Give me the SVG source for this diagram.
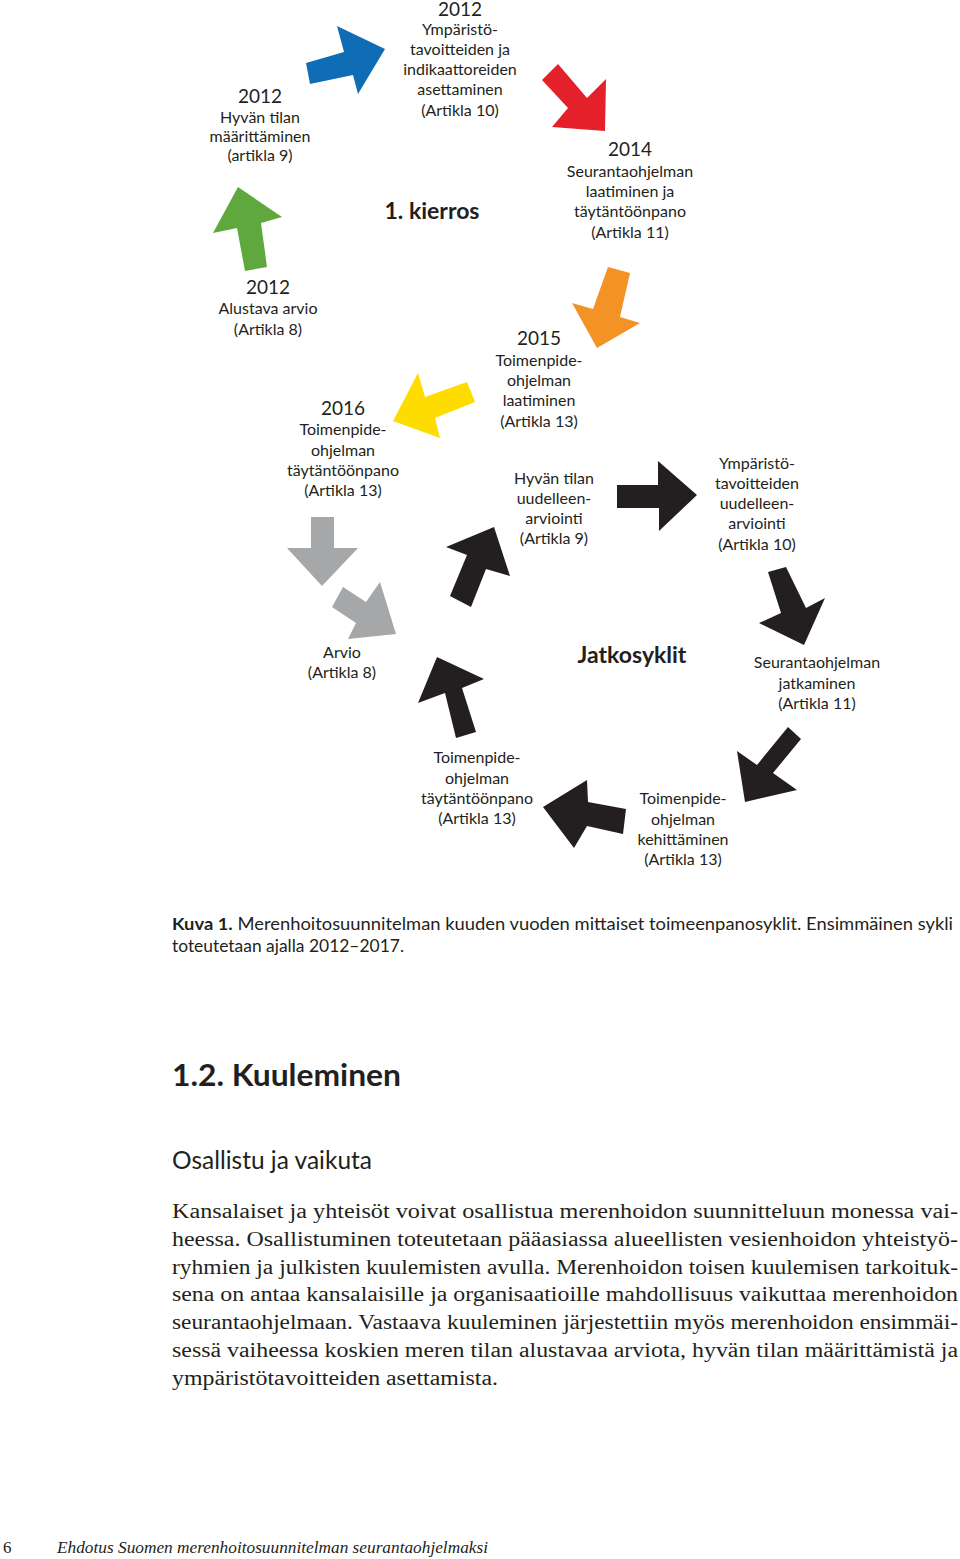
<svg xmlns="http://www.w3.org/2000/svg" width="960" height="1559" viewBox="0 0 960 1559">
<style>
.lbl{font-family:Lato,"Liberation Sans",sans-serif;font-size:16px;fill:#231f20;text-anchor:middle}
.yr{font-size:19px}
.big{font-family:Lato,"Liberation Sans",sans-serif;font-size:23px;font-weight:bold;fill:#231f20;text-anchor:middle}
.cap{font-family:Lato,"Liberation Sans",sans-serif;font-size:17px;fill:#231f20}
.h2{font-family:Lato,"Liberation Sans",sans-serif;font-size:30px;font-weight:bold;fill:#231f20}
.h3{font-family:Lato,"Liberation Sans",sans-serif;font-size:25px;fill:#231f20}
.body{font-family:"Liberation Serif",serif;font-size:20.5px;fill:#231f20}
.foot{font-family:"Liberation Serif",serif;font-size:17px;fill:#231f20}
.blue{fill:#0f6db6}.red{fill:#e4202a}.green{fill:#5ea83e}.orange{fill:#f39325}.yellow{fill:#ffdc00}.grey{fill:#a6a7a9}.black{fill:#231f20}
</style>
<rect width="960" height="1559" fill="#fff"/>
<g id="connectors">
<polygon class="blue" points="306,63 344,52 337,26 385,49 358,94 353,75 310,84"/>
<polygon class="red" points="558,64 587,98 606,79 605,131 552,127 568,108 542,80"/>
<polygon class="green" points="238,187 282,217 261,223 267,267 245,271 237,228 213,233"/>
<polygon class="orange" points="608,267 630,273 620,317 640,323 597,348 572,303 593,309"/>
<polygon class="yellow" points="467,382 475,402 435,418 440,438 393,421 418,373 425,397"/>
<polygon class="grey" points="311,517 334,517 334,548 358,548 322,586 287,548 311,548"/>
<polygon class="grey" points="343,587 366,602 380,582 396,634 348,639 356,623 332,607"/>
<polygon class="black" points="450,596 467,555 446,547 494,527 510,576 486,569 471,607"/>
<polygon class="black" points="617,485 658,485 658,461 697,495 659,531 659,508 617,508"/>
<polygon class="black" points="768,572 786,567 806,608 825,598 804,645 759,623 781,613"/>
<polygon class="black" points="456,738 445,693 418,703 437,657 484,679 462,688 476,732"/>
<polygon class="black" points="626,809 623,834 587,826 574,848 543,807 587,780 588,802"/>
<polygon class="black" points="788,727 801,739 773,773 797,790 745,802 737,751 757,765"/>
</g>
<g id="n-hyvan-tila">
<text class="lbl" x="260"><tspan class="yr" x="260" y="103">2012</tspan><tspan x="260" y="123">Hyvän tilan</tspan><tspan x="260" y="142">määrittäminen</tspan><tspan x="260" y="161">(artikla 9)</tspan></text>
</g>
<g id="n-ymparisto">
<text class="lbl"><tspan class="yr" x="460" y="16" font-size="18px">2012</tspan><tspan x="460" y="35">Ympäristö-</tspan><tspan x="460" y="55">tavoitteiden ja</tspan><tspan x="460" y="75">indikaattoreiden</tspan><tspan x="460" y="95">asettaminen</tspan><tspan x="460" y="116">(Artikla 10)</tspan></text>
</g>
<g id="n-seuranta">
<text class="lbl"><tspan class="yr" x="630" y="156">2014</tspan><tspan x="630" y="177">Seurantaohjelman</tspan><tspan x="630" y="197">laatiminen ja</tspan><tspan x="630" y="217">täytäntöönpano</tspan><tspan x="630" y="238">(Artikla 11)</tspan></text>
</g>
<g id="n-kierros">
<text class="big" x="432" y="219">1. kierros</text>
</g>
<g id="n-alustava">
<text class="lbl"><tspan class="yr" x="268" y="294">2012</tspan><tspan x="268" y="314">Alustava arvio</tspan><tspan x="268" y="335">(Artikla 8)</tspan></text>
</g>
<g id="n-toimenpide-laatiminen">
<text class="lbl"><tspan class="yr" x="539" y="345">2015</tspan><tspan x="539" y="366">Toimenpide-</tspan><tspan x="539" y="386">ohjelman</tspan><tspan x="539" y="406">laatiminen</tspan><tspan x="539" y="427">(Artikla 13)</tspan></text>
</g>
<g id="n-toimenpide-taytanto">
<text class="lbl"><tspan class="yr" x="343" y="415">2016</tspan><tspan x="343" y="435">Toimenpide-</tspan><tspan x="343" y="456">ohjelman</tspan><tspan x="343" y="476">täytäntöönpano</tspan><tspan x="343" y="496">(Artikla 13)</tspan></text>
</g>
<g id="n-hyva-uudelleen">
<text class="lbl"><tspan x="554" y="484">Hyvän tilan</tspan><tspan x="554" y="504">uudelleen-</tspan><tspan x="554" y="524">arviointi</tspan><tspan x="554" y="544">(Artikla 9)</tspan></text>
</g>
<g id="n-ymparisto-uudelleen">
<text class="lbl"><tspan x="757" y="469">Ympäristö-</tspan><tspan x="757" y="489">tavoitteiden</tspan><tspan x="757" y="509">uudelleen-</tspan><tspan x="757" y="529">arviointi</tspan><tspan x="757" y="550">(Artikla 10)</tspan></text>
</g>
<g id="n-arvio">
<text class="lbl"><tspan x="342" y="658">Arvio</tspan><tspan x="342" y="678">(Artikla 8)</tspan></text>
</g>
<g id="n-jatkosyklit">
<text class="big" x="632" y="663">Jatkosyklit</text>
</g>
<g id="n-seuranta-jatko">
<text class="lbl"><tspan x="817" y="668">Seurantaohjelman</tspan><tspan x="817" y="689">jatkaminen</tspan><tspan x="817" y="709">(Artikla 11)</tspan></text>
</g>
<g id="n-toimenpide-taytanto2">
<text class="lbl"><tspan x="477" y="763">Toimenpide-</tspan><tspan x="477" y="784">ohjelman</tspan><tspan x="477" y="804">täytäntöönpano</tspan><tspan x="477" y="824">(Artikla 13)</tspan></text>
</g>
<g id="n-toimenpide-kehitys">
<text class="lbl"><tspan x="683" y="804">Toimenpide-</tspan><tspan x="683" y="825">ohjelman</tspan><tspan x="683" y="845">kehittäminen</tspan><tspan x="683" y="865">(Artikla 13)</tspan></text>
</g>
<g id="caption">
<text class="cap" x="172" y="930" textLength="781" lengthAdjust="spacingAndGlyphs"><tspan font-weight="bold">Kuva 1.</tspan> Merenhoitosuunnitelman kuuden vuoden mittaiset toimeenpanosyklit. Ensimmäinen sykli</text>
<text class="cap" x="172" y="952" textLength="232" lengthAdjust="spacingAndGlyphs">toteutetaan ajalla 2012–2017.</text>
</g>
<g id="text-body">
<text class="h2" x="172" y="1086" textLength="229" lengthAdjust="spacingAndGlyphs">1.2. Kuuleminen</text>
<text class="h3" x="172" y="1169" textLength="200" lengthAdjust="spacingAndGlyphs">Osallistu ja vaikuta</text>
<text class="body" x="172" y="1218" textLength="786" lengthAdjust="spacingAndGlyphs">Kansalaiset ja yhteisöt voivat osallistua merenhoidon suunnitteluun monessa vai-</text>
<text class="body" x="172" y="1246" textLength="786" lengthAdjust="spacingAndGlyphs">heessa. Osallistuminen toteutetaan pääasiassa alueellisten vesienhoidon yhteistyö-</text>
<text class="body" x="172" y="1274" textLength="786" lengthAdjust="spacingAndGlyphs">ryhmien ja julkisten kuulemisten avulla. Merenhoidon toisen kuulemisen tarkoituk-</text>
<text class="body" x="172" y="1301" textLength="786" lengthAdjust="spacingAndGlyphs">sena on antaa kansalaisille ja organisaatioille mahdollisuus vaikuttaa merenhoidon</text>
<text class="body" x="172" y="1329" textLength="786" lengthAdjust="spacingAndGlyphs">seurantaohjelmaan. Vastaava kuuleminen järjestettiin myös merenhoidon ensimmäi-</text>
<text class="body" x="172" y="1357" textLength="786" lengthAdjust="spacingAndGlyphs">sessä vaiheessa koskien meren tilan alustavaa arviota, hyvän tilan määrittämistä ja</text>
<text class="body" x="172" y="1385" textLength="326" lengthAdjust="spacingAndGlyphs">ympäristötavoitteiden asettamista.</text>
</g>
<g id="footer">
<text class="foot" x="3" y="1553">6</text>
<text class="foot" x="57" y="1553" font-style="italic" textLength="431" lengthAdjust="spacingAndGlyphs">Ehdotus Suomen merenhoitosuunnitelman seurantaohjelmaksi</text>
</g>
</svg>
